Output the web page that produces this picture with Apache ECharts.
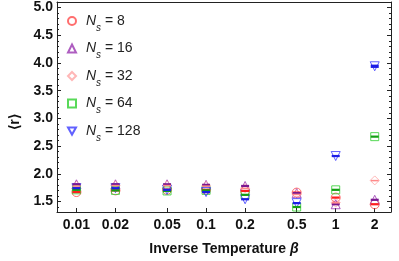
<!DOCTYPE html>
<html><head><meta charset="utf-8">
<script src="https://cdn.jsdelivr.net/npm/echarts@6/dist/echarts.min.js"></script>
<style>html,body{margin:0;padding:0;background:#fff}#c{width:399px;height:261px}</style>
</head><body><div id="c"></div>
<script>
const betas = [0.01, 0.02, 0.05, 0.1, 0.2, 0.5, 1, 2];
const xTickLabels = ['0.01', '0.02', '0.05', '0.1', '0.2', '0.5', '1', '2'];
const yTickLabels = [1.5, 2.0, 2.5, 3.0, 3.5, 4.0, 4.5, 5.0];
const yMinorTicks = [1.4,1.6,1.7,1.8,1.9,2.1,2.2,2.3,2.4,2.6,2.7,2.8,2.9,3.1,3.2,3.3,3.4,3.6,3.7,3.8,3.9,4.1,4.2,4.3,4.4,4.6,4.7,4.8,4.9,5.1];
const sizes = ['8', '16', '32', '64', '128'];
const r8   = [1.67, 1.70, 1.71, 1.71, 1.69, 1.66, 1.57, 1.45];
const r16  = [1.81, 1.81, 1.81, 1.80, 1.78, 1.65, 1.45, 1.53];
const r32  = [1.78, 1.79, 1.79, 1.78, 1.74, 1.63, 1.48, 1.88];
const r64  = [1.71, 1.70, 1.69, 1.70, 1.62, 1.40, 1.71, 2.67];
const r128 = [1.74, 1.74, 1.71, 1.67, 1.54, 1.47, 2.32, 3.94];
const e8   = [0.02, 0.02, 0.02, 0.02, 0.02, 0.02, 0.02, 0.02];
const e16  = [0.02, 0.02, 0.02, 0.02, 0.02, 0.02, 0.02, 0.02];
const e32  = [0.01, 0.01, 0.01, 0.01, 0.01, 0.01, 0.01, 0.01];
const e64  = [0.02, 0.02, 0.02, 0.02, 0.02, 0.02, 0.02, 0.02];
const e128 = [0.02, 0.02, 0.02, 0.02, 0.02, 0.02, 0.02, 0.03];

const values = [r8, r16, r32, r64, r128];
const errs = [e8, e16, e32, e64, e128];
const colors = ['#ff4a4a', '#9a35b0', '#ffa5a5', '#2ecf2e', '#3a3aff'];
const capColors = ['#ff1e1e', '#7a1890', '#ff8a8a', '#14a014', '#1c1ce6'];
const symbols = ['circle', 'triangle', 'diamond', 'path://M0,0 L10,0 L10,10 L0,10 Z', 'path://M0,0 L10,0 L5,9 Z'];
const symSizes = [9, 9, 9, 8, 9];
const FONT = 'Liberation Sans, Arial, sans-serif';

const series = [];
sizes.forEach((n, i) => {
  series.push({
    name: 'Ns' + n,
    type: 'scatter',
    data: betas.map((b, k) => [b, values[i][k]]),
    symbol: symbols[i],
    symbolSize: symSizes[i],
    itemStyle: { color: 'rgba(255,255,255,0)', borderColor: colors[i], borderWidth: 1 },
    z: 2
  });
});
sizes.forEach((n, i) => {
  series.push({
    name: 'err' + n,
    type: 'custom',
    data: betas.map((b, k) => [b, values[i][k], errs[i][k]]),
    renderItem: (params, api) => {
      const x = api.value(0), y = api.value(1), e = api.value(2);
      const p1 = api.coord([x, y + e]);
      const p2 = api.coord([x, y - e]);
      return { type: 'rect', shape: { x: p1[0] - 4, y: p1[1], width: 8, height: Math.max(1.5, p2[1] - p1[1]) },
               style: { fill: capColors[i] } };
    },
    z: 3,
    silent: true
  });
});

const chart = echarts.init(document.getElementById('c'), null, { renderer: 'canvas' });
chart.setOption({
  animation: false,
  color: colors,
  textStyle: { fontFamily: FONT },
  grid: { left: 44, right: 8, top: 2, bottom: 41, containLabel: false },
  legend: {
    orient: 'vertical', left: 62, top: 9, itemGap: 8.5,
    itemWidth: 8, itemHeight: 8,
    data: sizes.map(n => 'Ns' + n),
    formatter: name => '{n|N}{s|s}{t| = ' + name.slice(2) + '}',
    textStyle: {
      color: '#222', fontFamily: FONT,
      rich: {
        n: { fontStyle: 'italic', fontSize: 14, fontFamily: FONT, color: '#222', lineHeight: 16, padding: [0, 0, 0, 5] },
        s: { fontStyle: 'italic', fontSize: 10, fontFamily: FONT, color: '#222', verticalAlign: 'bottom', lineHeight: 16, padding: [0, 0, -4, 0] },
        t: { fontSize: 14, fontFamily: FONT, color: '#222', lineHeight: 16 }
      }
    }
  },
  xAxis: [{
    type: 'log', logBase: 10, min: 0.00708, max: 2.67,
    name: 'Inverse Temperature {b|β}', nameLocation: 'middle', nameGap: 30,
    nameTextStyle: { fontWeight: 'bold', fontSize: 14, color: '#111', fontFamily: FONT,
      rich: { b: { fontWeight: 'bold', fontStyle: 'italic', fontSize: 14, color: '#111', fontFamily: FONT } } },
    axisLine: { show: true, onZero: false, lineStyle: { color: '#222', width: 1 } },
    axisTick: { show: true, inside: true, length: 4, lineStyle: { color: '#222' }, customValues: betas },
    minorTick: { show: false },
    axisLabel: { customValues: betas, formatter: v => xTickLabels[betas.findIndex(b => Math.abs(b - v) < 1e-9)] ?? String(v),
      fontWeight: 'bold', fontSize: 14, color: '#111', margin: 6, fontFamily: FONT },
    splitLine: { show: false }
  }, {
    type: 'log', logBase: 10, min: 0.00708, max: 2.67, position: 'top',
    axisLine: { show: true, onZero: false, lineStyle: { color: '#222', width: 1 } },
    axisTick: { show: false }, axisLabel: { show: false }, splitLine: { show: false }
  }],
  yAxis: [{
    type: 'value', min: 1.31, max: 5.1,
    name: '⟨r⟩', nameLocation: 'middle', nameGap: 35, nameRotate: 90,
    nameTextStyle: { fontWeight: 'bold', fontSize: 14, color: '#111', fontFamily: FONT, padding: [0, 30, 0, 0] },
    axisLine: { show: true, onZero: false, lineStyle: { color: '#222', width: 1 } },
    axisTick: { show: true, inside: true, length: 4, lineStyle: { color: '#222' }, customValues: yTickLabels },
    axisLabel: { customValues: yTickLabels, formatter: v => v.toFixed(1), fontWeight: 'bold', fontSize: 14, color: '#111', margin: 4, fontFamily: FONT },
    splitLine: { show: false }
  }, {
    type: 'value', min: 1.31, max: 5.1, position: 'right',
    axisLine: { show: true, onZero: false, lineStyle: { color: '#222', width: 1 } },
    axisTick: { show: true, inside: true, length: 4, lineStyle: { color: '#222' }, customValues: yTickLabels },
    axisLabel: { show: false }, splitLine: { show: false }
  }, {
    type: 'value', min: 1.31, max: 5.1, position: 'right',
    axisLine: { show: false },
    axisTick: { show: true, inside: true, length: 2, lineStyle: { color: '#222' }, customValues: yMinorTicks },
    axisLabel: { show: false }, splitLine: { show: false }
  }, {
    type: 'value', min: 1.31, max: 5.1, position: 'left',
    axisLine: { show: false },
    axisTick: { show: true, inside: true, length: 2, lineStyle: { color: '#222' }, customValues: yMinorTicks },
    axisLabel: { show: false }, splitLine: { show: false }
  }],
  series: series
});
</script></body></html>
